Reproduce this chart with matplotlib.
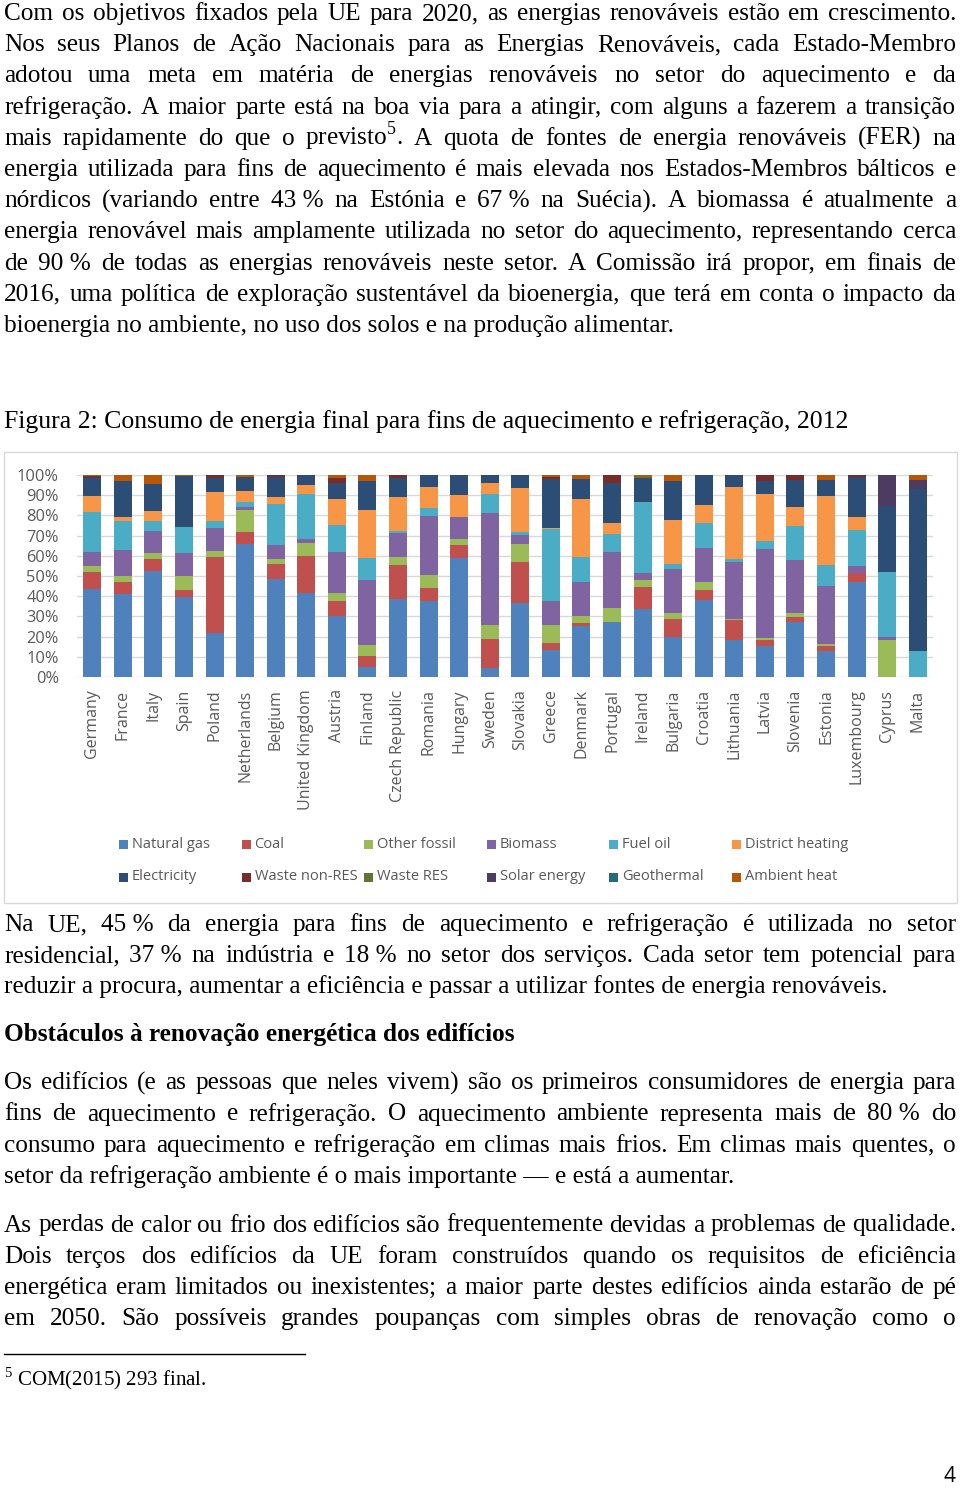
import pandas as pd
import numpy as np
import matplotlib
matplotlib.use('Agg')
import matplotlib.pyplot as plt
from matplotlib.patches import Rectangle
from matplotlib.lines import Line2D

W, H = 960, 1488
plt.rcParams['mathtext.fontset'] = 'custom'
plt.rcParams['mathtext.rm'] = 'Liberation Serif'

# Chart data (shares, %)
countries = ['Germany', 'France', 'Italy', 'Spain', 'Poland', 'Netherlands', 'Belgium',
             'United Kingdom', 'Austria', 'Finland', 'Czech Republic', 'Romania', 'Hungary',
             'Sweden', 'Slovakia', 'Greece', 'Denmark', 'Portugal', 'Ireland', 'Bulgaria',
             'Croatia', 'Lithuania', 'Latvia', 'Slovenia', 'Estonia', 'Luxembourg', 'Cyprus', 'Malta']

natural_gas = [43.5, 41.0, 52.7, 39.5, 21.7, 65.9, 48.6, 41.5, 30.3, 4.9, 38.6, 37.4, 59.1, 4.6,
               36.6, 13.5, 25.4, 27.0, 33.6, 19.6, 38.2, 18.5, 15.5, 27.2, 12.7, 46.8, 0, 0]
coal = [8.4, 6.1, 5.6, 3.7, 37.8, 5.8, 7.6, 18.6, 7.4, 5.6, 16.6, 6.6, 6.3, 14.3,
        20.2, 3.3, 1.3, 0, 11.2, 9.2, 5.0, 9.5, 3.0, 2.3, 2.8, 4.9, 0, 0]
other_fossil = [3.1, 2.8, 3.3, 7.0, 3.1, 11.0, 2.5, 6.1, 3.8, 5.2, 4.4, 6.6, 2.8, 7.0,
                8.9, 9.1, 3.3, 7.4, 3.3, 2.8, 3.6, 0.8, 0.8, 2.1, 0.8, 0, 18.5, 0]
biomass = [7.1, 13.0, 10.9, 11.1, 11.4, 1.6, 6.6, 2.2, 20.3, 32.1, 11.9, 29.3, 11.2, 55.2,
           4.6, 11.5, 16.8, 27.7, 3.6, 21.8, 17.3, 27.9, 44.0, 26.1, 28.8, 3.3, 1.3, 0]
fuel_oil = [19.6, 14.4, 4.8, 13.2, 3.3, 2.5, 20.3, 22.0, 13.5, 11.3, 1.0, 4.0, 0, 9.3,
            1.7, 35.7, 12.5, 8.7, 34.8, 2.6, 12.0, 1.9, 4.2, 17.3, 10.3, 17.8, 32.1, 13.0]
district_heating = [8.1, 2.1, 5.1, 0, 14.3, 5.3, 3.5, 4.7, 12.7, 23.6, 16.5, 10.3, 10.7, 5.5,
                    21.4, 0.7, 28.8, 5.3, 0, 21.8, 9.1, 35.6, 22.9, 9.0, 34.2, 6.3, 0, 0]
electricity = [8.6, 17.8, 13.0, 25.0, 7.1, 7.1, 10.2, 4.9, 7.9, 14.5, 9.4, 5.8, 9.9, 4.1,
               6.6, 24.2, 9.8, 20.1, 11.9, 19.2, 14.8, 5.8, 6.8, 13.5, 7.9, 19.7, 32.8, 79.9]
waste_nonres = [0.8, 0, 0, 0, 1.3, 0, 0.8, 0, 2.5, 0, 1.6, 0, 0, 0,
                0, 0.8, 0, 3.8, 0, 0, 0, 0, 2.8, 2.5, 0, 1.2, 0, 0]
waste_res = [0, 0, 0, 0, 0, 0, 0, 0, 0, 0, 0, 0, 0, 0,
             0, 0, 0, 0, 0.8, 0, 0, 0, 0, 0, 0, 0, 0, 0]
solar = [0.3, 0, 0, 0, 0, 0, 0, 0, 0, 0, 0, 0, 0, 0,
         0, 0, 0, 0, 0, 0, 0, 0, 0, 0, 0, 0, 15.3, 4.6]
geothermal = [0] * 28
ambient_heat = [0.5, 2.8, 4.6, 0.5, 0, 0.8, 0, 0, 1.6, 2.8, 0, 0, 0, 0,
                0, 1.2, 2.1, 0, 0.8, 3.0, 0, 0, 0, 0, 2.5, 0, 0, 2.5]

series_names = ['Natural gas', 'Coal', 'Other fossil', 'Biomass', 'Fuel oil', 'District heating',
                'Electricity', 'Waste non-RES', 'Waste RES', 'Solar energy', 'Geothermal', 'Ambient heat']
colors = ['#4F81BD', '#C0504D', '#9BBB59', '#8064A2', '#4BACC6', '#F79646',
          '#2C4D75', '#772C2A', '#5F7530', '#4D3B62', '#276A7C', '#B65708']

df = pd.DataFrame(dict(zip(series_names, [natural_gas, coal, other_fossil, biomass, fuel_oil,
                                          district_heating, electricity, waste_nonres, waste_res,
                                          solar, geothermal, ambient_heat])), index=countries)
df = df.div(df.sum(axis=1), axis=0) * 100

fig = plt.figure(figsize=(W / 100, H / 100), dpi=100)
renderer = fig.canvas.get_renderer()

SERIF = 'Liberation Serif'
BODY = 18.2
X0, X1 = 4, 956


def fx(x):
    return x / W


def fy(y):
    return 1 - y / H


def line(txt, y, justify=True, size=BODY, weight='normal'):
    if not justify:
        fig.text(fx(X0), fy(y), txt, fontsize=size, family=SERIF, weight=weight, va='baseline')
        return
    words = txt.split(' ')
    texts = [fig.text(0, fy(y), w.replace('~', '\u00a0'), fontsize=size, family=SERIF,
                      weight=weight, va='baseline') for w in words]
    widths = [t.get_window_extent(renderer).width for t in texts]
    gap = (X1 - X0 - sum(widths)) / (len(words) - 1)
    x = X0
    for t, w in zip(texts, widths):
        t.set_x(fx(x))
        x += w + gap


def paragraph(lines, y0, step=31.2, last_justified=False):
    for i, l in enumerate(lines):
        last = i == len(lines) - 1
        line(l, y0 + i * step, justify=(not last) or last_justified)


paragraph([
    'Com os objetivos fixados pela UE para 2020, as energias renováveis estão em crescimento.',
    'Nos seus Planos de Ação Nacionais para as Energias Renováveis, cada Estado-Membro',
    'adotou uma meta em matéria de energias renováveis no setor do aquecimento e da',
    'refrigeração. A maior parte está na boa via para a atingir, com alguns a fazerem a transição',
    r'mais rapidamente do que o previsto$^{\mathrm{5}}$. A quota de fontes de energia renováveis (FER) na',
    'energia utilizada para fins de aquecimento é mais elevada nos Estados-Membros bálticos e',
    'nórdicos (variando entre 43~% na Estónia e 67~% na Suécia). A biomassa é atualmente a',
    'energia renovável mais amplamente utilizada no setor do aquecimento, representando cerca',
    'de 90~% de todas as energias renováveis neste setor. A Comissão irá propor, em finais de',
    '2016, uma política de exploração sustentável da bioenergia, que terá em conta o impacto da',
    'bioenergia no ambiente, no uso dos solos e na produção alimentar.',
], 20)

line('Figura 2: Consumo de energia final para fins de aquecimento e refrigeração, 2012', 428,
     justify=False, size=18.5)

# chart frame
fig.add_artist(Rectangle((fx(4), fy(903)), fx(953), (903 - 452) / H, transform=fig.transFigure,
                         fill=False, edgecolor='#D9D9D9', lw=1))

ax = fig.add_axes([fx(77), fy(677), fx(856), 202 / H])
xpos = np.arange(len(countries))
bottom = np.zeros(len(countries))
for name, c in zip(series_names, colors):
    ax.bar(xpos, df[name].values, 0.59, bottom=bottom, color=c, label=name, zorder=2)
    bottom += df[name].values

ax.set_xlim(-0.5, len(countries) - 0.5)
ax.set_ylim(0, 100)
ax.set_yticks(range(0, 101, 10))
ax.set_yticklabels([f'{v}%' for v in range(0, 101, 10)])
ax.set_xticks(xpos)
ax.set_xticklabels(countries, rotation=90)
ax.yaxis.grid(True, color='#D9D9D9', lw=1)
ax.set_axisbelow(True)
for s in ax.spines.values():
    s.set_visible(False)
ax.tick_params(axis='y', length=0, pad=13, labelcolor='#595959', labelsize=11.8)
ax.tick_params(axis='x', length=0, pad=9, labelcolor='#595959', labelsize=11.5)
for t in ax.get_xticklabels() + ax.get_yticklabels():
    t.set_family('Open Sans')

# legend, two rows of six
for i, (name, c) in enumerate(zip(series_names, colors)):
    row, col = divmod(i, 6)
    tx = 132 + 122.6 * col
    ty = 844 + 33 * row
    fig.add_artist(Rectangle((fx(tx - 13), fy(ty + 4.5)), 9 / W, 9 / H,
                             transform=fig.transFigure, color=c, lw=0))
    fig.text(fx(tx), fy(ty), name, fontsize=10.5, family='Open Sans', color='#595959',
             va='center')

paragraph([
    'Na UE, 45~% da energia para fins de aquecimento e refrigeração é utilizada no setor',
    'residencial, 37~% na indústria e 18~% no setor dos serviços. Cada setor tem potencial para',
    'reduzir a procura, aumentar a eficiência e passar a utilizar fontes de energia renováveis.',
], 931)

line('Obstáculos à renovação energética dos edifícios', 1041, justify=False, weight='bold')

paragraph([
    'Os edifícios (e as pessoas que neles vivem) são os primeiros consumidores de energia para',
    'fins de aquecimento e refrigeração. O aquecimento ambiente representa mais de 80~% do',
    'consumo para aquecimento e refrigeração em climas mais frios. Em climas mais quentes, o',
    'setor da refrigeração ambiente é o mais importante — e está a aumentar.',
], 1089.3)

paragraph([
    'As perdas de calor ou frio dos edifícios são frequentemente devidas a problemas de qualidade.',
    'Dois terços dos edifícios da UE foram construídos quando os requisitos de eficiência',
    'energética eram limitados ou inexistentes; a maior parte destes edifícios ainda estarão de pé',
    'em 2050. São possíveis grandes poupanças com simples obras de renovação como o',
], 1231.5, last_justified=True)

fig.add_artist(Line2D([fx(4), fx(305)], [fy(1354), fy(1354)], transform=fig.transFigure,
                      color='black', lw=1))
fig.text(fx(4), fy(1385), r'$^{\mathrm{5}}$ COM(2015) 293 final.', fontsize=15, family=SERIF,
         va='baseline')
fig.text(fx(955), fy(1477), '4', fontsize=15, family='Open Sans', ha='right', va='center')

fig.savefig('out.png', dpi=100, facecolor='white')
